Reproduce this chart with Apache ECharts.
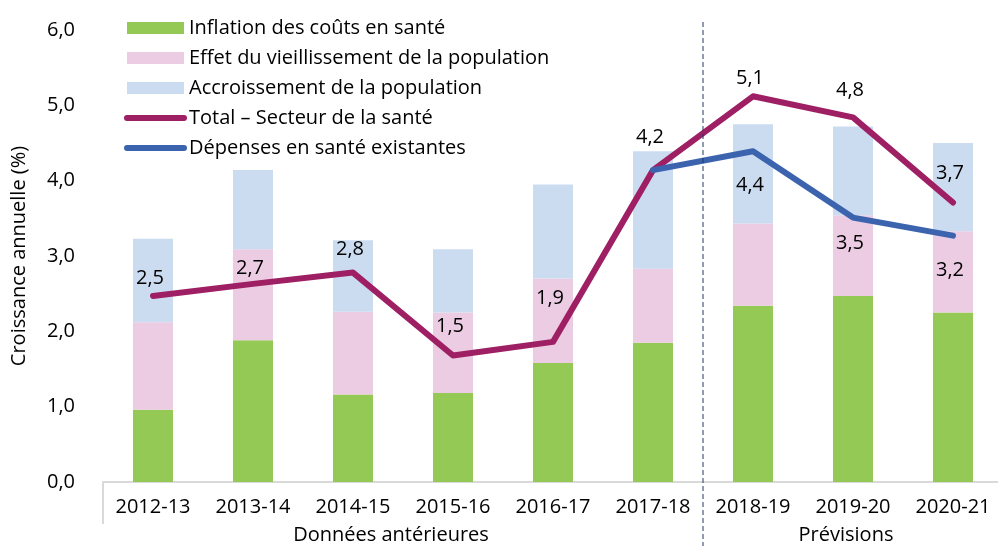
<!DOCTYPE html>
<html lang="fr">
<head>
	<meta charset="utf-8">
	<title>Croissance annuelle</title>
	<script src="https://cdn.jsdelivr.net/npm/echarts@6/dist/echarts.min.js"></script>
</head>
<style>
	html,body{width: 100%; height: 100%; padding: 0; margin: 0; overflow: hidden; background: #fff;}
	#main{width: 998px; height: 546px;}
</style>
<body>
	<div id="main"></div>
</body>
<script type="text/javascript">
	// données
	var years = ['2012-13','2013-14','2014-15','2015-16','2016-17','2017-18','2018-19','2019-20','2020-21'];
	var inflation = [0.96, 1.88, 1.16, 1.18, 1.58, 1.85, 2.34, 2.47, 2.25];
	var vieillissement = [1.16, 1.21, 1.10, 1.07, 1.12, 0.98, 1.09, 1.07, 1.08];
	var accroissement = [1.11, 1.05, 0.95, 0.84, 1.25, 1.56, 1.32, 1.18, 1.17];
	var total = [2.47, 2.63, 2.78, 1.68, 1.86, 4.14, 5.12, 4.84, 3.71];
	var totalLabels = ['2,5','2,7','2,8','1,5','1,9','4,2','5,1','4,8','3,7'];
	var existantes = [null, null, null, null, null, 4.14, 4.39, 3.51, 3.27];
	var existantesLabels = ['','','','','','','4,4','3,5','3,2'];
	var groups = ['Données antérieures', 'Prévisions'];
	var yTicks = [0, 1, 2, 3, 4, 5, 6];

	var font = 'Open Sans';
	// distance label / point (style)
	var totalLift = [18, 16, 23, 29, 44, 33, 18, 27, 29];
	var existDrop = [0, 0, 0, 0, 0, 0, 34, 26, 35];

	var myChart = echarts.init(document.getElementById('main'));

	var totalData = total.map(function(v, i){
		return {
			value: v,
			label: {show: true, formatter: totalLabels[i], position: 'inside', offset: [-3, -totalLift[i]]}
		};
	});
	var existData = existantes.map(function(v, i){
		if (v === null) return '-';
		return {
			value: v,
			label: {show: existantesLabels[i] !== '', formatter: existantesLabels[i], position: 'inside', offset: [-3, existDrop[i]]}
		};
	});

	var labelStyle = {fontFamily: font, fontSize: 20, color: '#000'};

	var option = {
		animation: false,
		textStyle: {fontFamily: font},
		legend: {
			orient: 'vertical',
			left: 119,
			top: 13,
			itemWidth: 57,
			itemHeight: 12,
			itemGap: 10,
			lineStyle: {width: 6, cap: 'round'},
			textStyle: {fontFamily: font, fontSize: 20, color: '#000', lineHeight: 20},
			data: [
				{name: 'Inflation des coûts en santé', icon: 'rect'},
				{name: 'Effet du vieillissement de la population', icon: 'rect'},
				{name: 'Accroissement de la population', icon: 'rect'},
				{name: 'Total – Secteur de la santé', itemStyle: {opacity: 0}},
				{name: 'Dépenses en santé existantes', itemStyle: {opacity: 0}}
			]
		},
		grid: {left: 103, right: -5, top: 30, bottom: 64, outerBoundsMode: 'none'},
		xAxis: {
			type: 'category',
			data: years,
			axisLine: {lineStyle: {color: '#d9d9d9', width: 2}},
			axisTick: {
				show: true,
				length: 42,
				interval: function(index){ return index === 0; },
				lineStyle: {color: '#d9d9d9', width: 2}
			},
			axisLabel: {margin: 15, fontFamily: font, fontSize: 20, color: '#000'}
		},
		yAxis: {
			type: 'value',
			min: yTicks[0],
			max: yTicks[yTicks.length - 1],
			interval: 1,
			name: 'Croissance annuelle (%)',
			nameLocation: 'middle',
			nameGap: 74,
			nameTextStyle: {fontFamily: font, fontSize: 20, color: '#000'},
			axisLine: {show: false},
			axisTick: {show: false},
			splitLine: {show: false},
			axisLabel: {
				margin: 28,
				fontFamily: font, fontSize: 20, color: '#000',
				formatter: function(v){ return v.toFixed(1).replace('.', ','); }
			}
		},
		series: [
			{
				name: 'Inflation des coûts en santé',
				type: 'bar', stack: 'a', barWidth: 40,
				itemStyle: {color: '#95c955'},
				data: inflation
			},
			{
				name: 'Effet du vieillissement de la population',
				type: 'bar', stack: 'a', barWidth: 40,
				itemStyle: {color: '#eccce2'},
				data: vieillissement
			},
			{
				name: 'Accroissement de la population',
				type: 'bar', stack: 'a', barWidth: 40,
				itemStyle: {color: '#cbdcf1'},
				data: accroissement
			},
			{
				name: 'Total – Secteur de la santé',
				type: 'line',
				symbol: 'circle', symbolSize: 1,
				itemStyle: {color: '#9e1f63'},
				lineStyle: {color: '#9e1f63', width: 6, cap: 'round', join: 'round'},
				label: labelStyle,
				z: 5,
				data: totalData
			},
			{
				name: 'Dépenses en santé existantes',
				type: 'line',
				symbol: 'circle', symbolSize: 1,
				itemStyle: {color: '#3b63ae'},
				lineStyle: {color: '#3b63ae', width: 6, cap: 'round', join: 'round'},
				label: labelStyle,
				z: 6,
				data: existData
			}
		]
	};
	myChart.setOption(option);

	// ligne pointillée et libellés de groupe
	var x5 = myChart.convertToPixel({xAxisIndex: 0}, years[5]);
	var x6 = myChart.convertToPixel({xAxisIndex: 0}, years[6]);
	var x0 = myChart.convertToPixel({xAxisIndex: 0}, years[0]);
	var x8 = myChart.convertToPixel({xAxisIndex: 0}, years[8]);
	var step = x6 - x5;
	var sep = (x5 + x6) / 2;
	myChart.setOption({
		graphic: [
			{
				type: 'line', z: 10,
				shape: {x1: sep, y1: 22, x2: sep, y2: 546},
				style: {stroke: '#203864', lineWidth: 1, lineDash: [5, 3]}
			},
			{
				type: 'text', z: 10,
				x: (x0 - step / 2 + sep) / 2 - 12, y: 535,
				style: {text: groups[0], font: '20px "Open Sans"', fill: '#000', align: 'center', verticalAlign: 'middle'}
			},
			{
				type: 'text', z: 10,
				x: (sep + x8 + step / 2) / 2 - 7, y: 535,
				style: {text: groups[1], font: '20px "Open Sans"', fill: '#000', align: 'center', verticalAlign: 'middle'}
			}
		]
	});
</script>
</html>
